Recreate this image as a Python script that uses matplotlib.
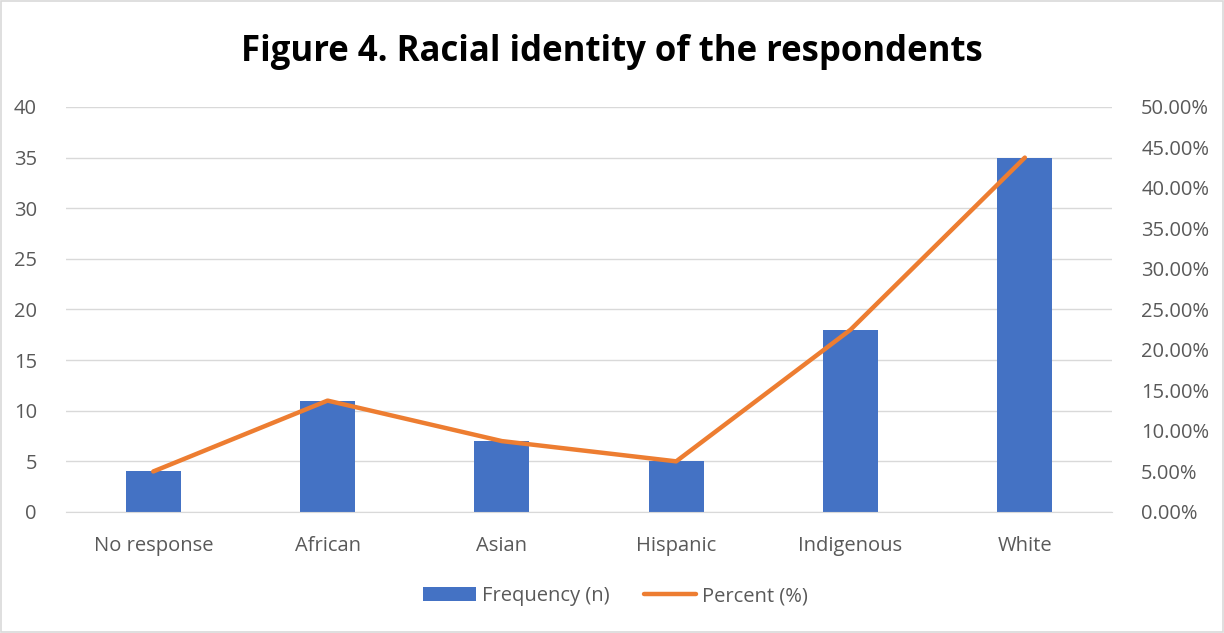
#!/usr/bin/env python3
"""
Bar + line combo chart of respondents' racial identity (count and percent).
"""

import matplotlib
matplotlib.use("Agg")
import matplotlib.pyplot as plt
import numpy as np
from matplotlib.ticker import FuncFormatter

categories = ["No response", "African", "Asian", "Hispanic", "Indigenous", "White"]
frequency = [4, 11, 7, 5, 18, 35]
percent = [5.00, 13.75, 8.75, 6.25, 22.50, 43.75]

BLUE = "#4472C4"
ORANGE = "#ED7D31"
GRID = "#D9D9D9"
TEXT = "#595959"

plt.rcParams["font.family"] = ["Open Sans", "DejaVu Sans"]


def main():
    fig = plt.figure(figsize=(12.24, 6.33), dpi=100)
    ax = fig.add_axes([0.054, 0.1912, 0.8545, 0.6398])
    ax2 = ax.twinx()

    x = np.arange(len(categories))
    ax.bar(x, frequency, width=0.316, color=BLUE, label="Frequency (n)", zorder=2)
    ax2.plot(x, percent, color=ORANGE, linewidth=3.2, solid_capstyle="round",
             label="Percent (%)", zorder=3)

    ax.set_xlim(-0.5, len(categories) - 0.5)
    ax.set_ylim(0, 40)
    ax.set_yticks(range(0, 41, 5))
    ax2.set_ylim(0, 50)
    ax2.set_yticks(range(0, 51, 5))
    ax2.yaxis.set_major_formatter(FuncFormatter(lambda v, _: f"{v:.2f}%"))

    ax.set_xticks(x)
    ax.set_xticklabels(categories)
    ax.grid(axis="y", color=GRID, linewidth=1, zorder=0)
    ax.set_axisbelow(True)

    for a in (ax, ax2):
        for side in ("top", "left", "right"):
            a.spines[side].set_visible(False)
        a.spines["bottom"].set_color(GRID)
        a.tick_params(length=0, labelsize=14.5, colors=TEXT)
    ax.tick_params(axis="y", pad=21)
    ax.tick_params(axis="x", pad=17)
    ax2.tick_params(axis="y", pad=21)
    ax2.spines["bottom"].set_visible(False)

    fig.text(0.5, 0.918, "Figure 4. Racial identity of the respondents",
             ha="center", va="center", fontsize=25, fontweight="bold", color="black")

    h1, l1 = ax.get_legend_handles_labels()
    h2, l2 = ax2.get_legend_handles_labels()
    fig.legend(h1 + h2, l1 + l2, loc="center", bbox_to_anchor=(0.503, 0.058),
               ncol=2, frameon=False, fontsize=14.5, labelcolor=TEXT,
               handlelength=2.6, handleheight=0.65, columnspacing=1.7, handletextpad=0.3)

    # thin light frame around the chart area
    fig.patches.append(plt.Rectangle((0.001, 0.001), 0.998, 0.998, transform=fig.transFigure,
                                     fill=False, edgecolor=GRID, linewidth=1.2))

    fig.savefig("out.png", dpi=100)
    plt.close(fig)


if __name__ == "__main__":
    main()
